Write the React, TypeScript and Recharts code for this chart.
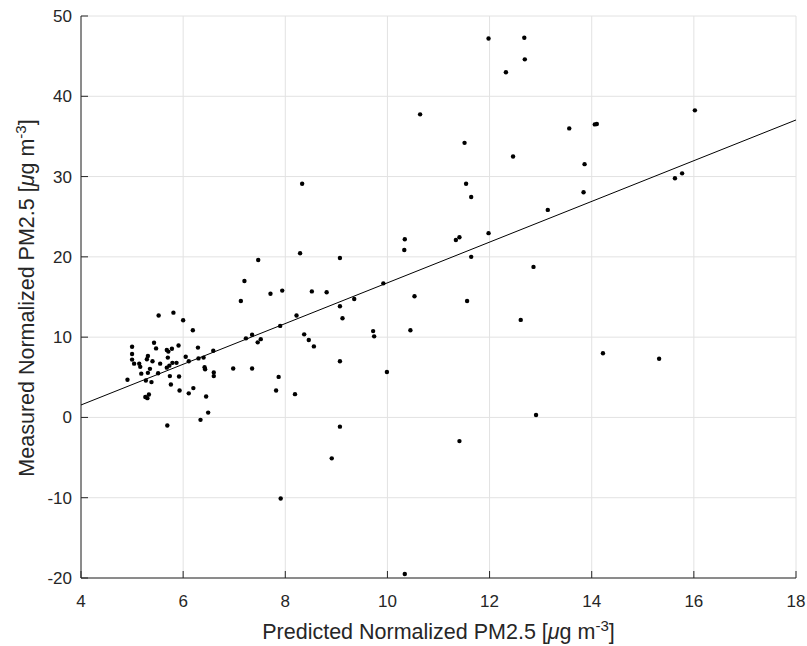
import { ScatterChart, Scatter, XAxis, YAxis, CartesianGrid } from "recharts";

const predicted = [
  7.2, 7.71, 7.94, 7.13, 5.52, 5.81, 6.0, 6.19, 5.0, 5.43, 5.47, 5.0, 5.0, 5.04, 5.14,
  5.16, 5.31, 5.29, 5.4, 5.35, 5.18, 5.31, 4.91, 5.27, 5.38, 5.55, 5.51, 5.68, 5.71, 5.78,
  5.91, 5.7, 5.79, 5.87, 5.68, 5.73, 5.74, 5.92, 5.76, 5.93, 5.26, 5.3, 5.33, 6.05, 6.11,
  6.29, 6.3, 6.4, 6.59, 6.42, 6.43, 6.6, 6.6, 6.2, 6.11, 6.45, 6.49, 6.34, 5.69, 6.98,
  7.35, 7.23, 7.35, 7.46, 7.52, 7.9, 7.87, 7.82, 8.33, 7.47, 8.29, 9.07, 10.34, 10.33, 8.52,
  8.81, 9.92, 10.53, 9.07, 9.35, 9.12, 8.22, 8.37, 8.46, 8.56, 9.72, 9.74, 10.45, 9.07, 9.99,
  8.19, 9.07, 8.91, 7.91, 10.34, 11.98, 12.68, 12.69, 12.32, 10.64, 11.51, 13.56, 14.06, 14.1, 12.46,
  13.86, 11.54, 11.64, 13.84, 13.14, 11.34, 11.41, 11.98, 11.64, 12.86, 11.56, 12.61, 14.22, 12.91, 11.41,
  16.02, 15.63, 15.77, 15.32,
];
const measured = [
  17.0, 15.4, 15.8, 14.5, 12.7, 13.05, 12.1, 10.85, 8.8, 9.3, 8.6, 7.9, 7.2, 6.7, 6.7,
  6.3, 7.65, 7.25, 7.0, 6.05, 5.45, 5.55, 4.7, 4.6, 4.4, 6.7, 5.5, 8.4, 8.2, 8.55,
  8.95, 7.45, 6.8, 6.8, 6.2, 6.45, 5.15, 5.1, 4.1, 3.35, 2.55, 2.4, 2.85, 7.55, 7.0,
  8.7, 7.35, 7.45, 8.3, 6.25, 6.0, 5.6, 5.15, 3.65, 3.0, 2.6, 0.6, -0.3, -1.0, 6.1,
  6.1, 9.85, 10.3, 9.35, 9.75, 11.4, 5.05, 3.35, 29.1, 19.6, 20.45, 19.85, 22.2, 20.85, 15.7,
  15.6, 16.7, 15.1, 13.85, 14.75, 12.35, 12.7, 10.35, 9.65, 8.85, 10.75, 10.1, 10.85, 7.0, 5.65,
  2.9, -1.15, -5.1, -10.1, -19.5, 47.2, 47.3, 44.6, 43.0, 37.75, 34.2, 36.0, 36.5, 36.55, 32.5,
  31.55, 29.1, 27.45, 28.05, 25.85, 22.1, 22.45, 22.95, 20.0, 18.75, 14.5, 12.15, 8.0, 0.3, -2.95,
  38.25, 29.8, 30.4, 7.3,
];

// least-squares fit line end points
const fitX = [4, 18];
const fitY = [1.55, 37.05];

const xTicks = [4, 6, 8, 10, 12, 14, 16, 18];
const yTicks = [-20, -10, 0, 10, 20, 30, 40, 50];

const points = predicted.map((x, i) => ({ x, y: measured[i] }));
const fitLine = fitX.map((x, i) => ({ x, y: fitY[i] }));

const axisColor = "#262626";
const font = "'Liberation Sans', Arial, Helvetica, sans-serif";

const Dot = (props: any) => <circle cx={props.cx} cy={props.cy} r={2.2} fill="#000" />;
const NoDot = () => <g />;

const XLabel = (props: any) => {
  const { x, width } = props.viewBox;
  return (
    <text x={x + width / 2} y={639} textAnchor="middle" fontSize={21.5} fill={axisColor} fontFamily={font}>
      Predicted Normalized PM2.5 [<tspan fontStyle="italic">μ</tspan>g m
      <tspan dy={-8} fontSize={15}>-3</tspan>
      <tspan dy={8}>]</tspan>
    </text>
  );
};

const YLabel = (props: any) => {
  const { y, height } = props.viewBox;
  const cx = 34;
  const cy = y + height / 2 + 1;
  return (
    <text
      x={cx}
      y={cy}
      transform={`rotate(-90 ${cx} ${cy})`}
      textAnchor="middle"
      fontSize={21.5}
      fill={axisColor}
      fontFamily={font}
    >
      Measured Normalized PM2.5 [<tspan fontStyle="italic">μ</tspan>g m
      <tspan dy={-8} fontSize={15}>-3</tspan>
      <tspan dy={8}>]</tspan>
    </text>
  );
};

export default function App() {
  return (
    <div style={{ position: "absolute", left: 0, top: 0, width: 807, height: 646, background: "#fff" }}>
      <ScatterChart width={807} height={646} margin={{ top: 16, right: 11, bottom: 0, left: 0 }}>
        <CartesianGrid stroke="#e2e2e2" strokeWidth={1} />
        <XAxis
          type="number"
          dataKey="x"
          domain={[4, 18]}
          ticks={xTicks}
          height={68}
          allowDataOverflow
          stroke={axisColor}
          tickSize={-7}
          tickMargin={24}
          tick={{ fill: axisColor, fontSize: 17, fontFamily: font }}
          label={<XLabel />}
        />
        <YAxis
          type="number"
          dataKey="y"
          domain={[-20, 50]}
          ticks={yTicks}
          width={81}
          allowDataOverflow
          stroke={axisColor}
          tickSize={-7}
          tickMargin={16}
          tick={{ fill: axisColor, fontSize: 17, fontFamily: font }}
          label={<YLabel />}
        />
        <Scatter data={points} fill="#000" shape={Dot} isAnimationActive={false} />
        <Scatter
          data={fitLine}
          line={{ stroke: "#000", strokeWidth: 1 }}
          shape={NoDot}
          isAnimationActive={false}
        />
      </ScatterChart>
    </div>
  );
}
